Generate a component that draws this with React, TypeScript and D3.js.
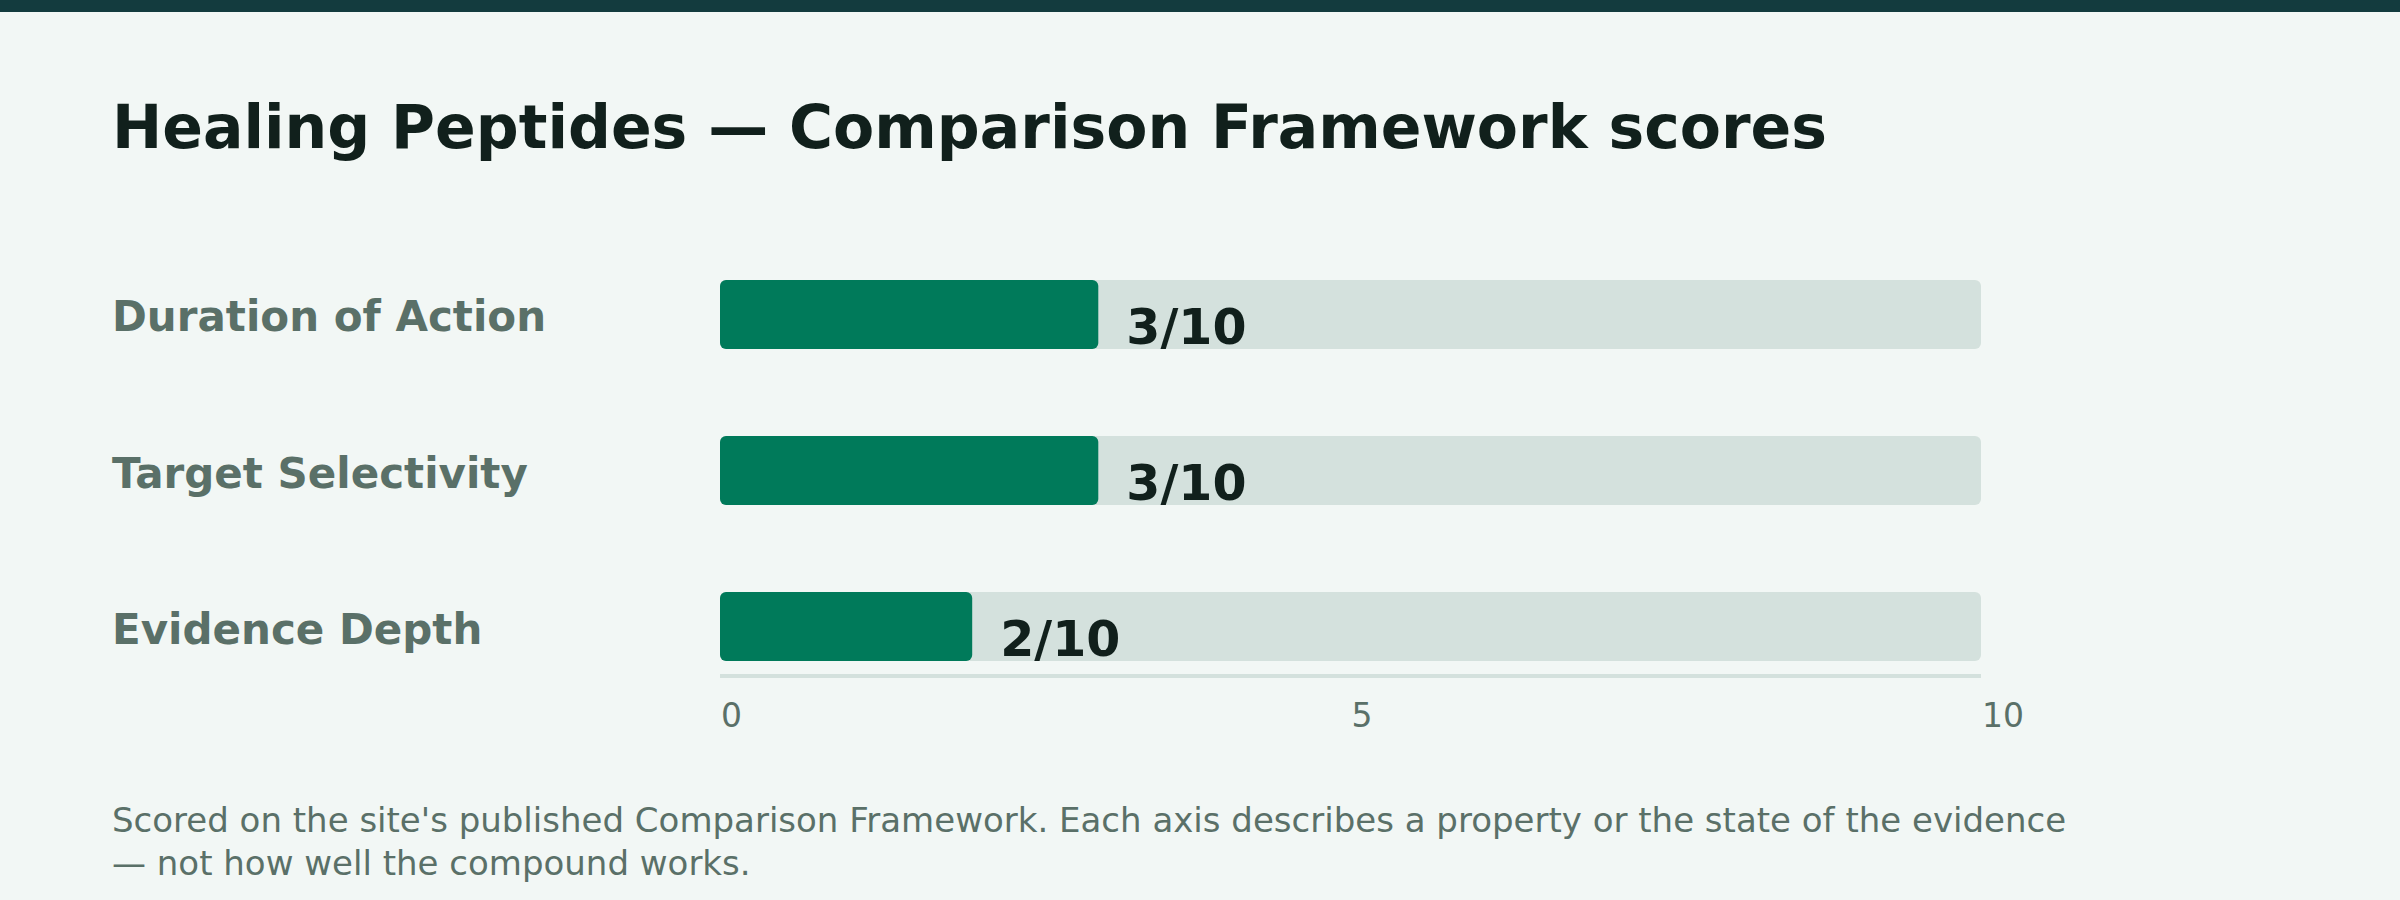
import React from "react";
import * as d3 from "d3";

const categories = ["Duration of Action", "Target Selectivity", "Evidence Depth"];
const scores = [3, 3, 2];
const maxScore = 10;
const tickValues = [0, 5, 10];
const title = "Healing Peptides — Comparison Framework scores";
const footnoteLines = [
  "Scored on the site's published Comparison Framework. Each axis describes a property or the state of the evidence",
  "— not how well the compound works.",
];

const W = 2400;
const H = 900;
const FONT = "'DejaVu Sans', sans-serif";

export default function App() {
  const x = d3.scaleLinear().domain([0, maxScore]).range([720, 1981]);
  const y = d3
    .scaleBand<string>()
    .domain(categories)
    .range([280, 661])
    .paddingInner(0.5577)
    .paddingOuter(0);
  const bw = y.bandwidth();
  const axisY = 676;

  return (
    <svg
      width={W}
      height={H}
      style={{ position: "absolute", left: 0, top: 0, display: "block" }}
      fontFamily={FONT}
    >
      <rect x={0} y={0} width={W} height={H} fill="#f2f7f5" />
      <rect x={0} y={0} width={W} height={12} fill="#133b3e" />
      <text x={112} y={148} fontSize={60} fontWeight="bold" fill="#11201c">
        {title}
      </text>
      {categories.map((c, i) => {
        const y0 = y(c) as number;
        return (
          <g key={c}>
            <text
              x={112}
              y={y0 + bw / 2 + 17}
              fontSize={42}
              fontWeight="bold"
              fill="#5a7068"
            >
              {c}
            </text>
            <rect
              x={x(0)}
              y={y0}
              width={x(maxScore) - x(0)}
              height={bw}
              rx={6}
              fill="#d4e1dd"
            />
            <rect
              x={x(0)}
              y={y0}
              width={x(scores[i]) - x(0)}
              height={bw}
              rx={6}
              fill="#007a5a"
            />
            <text
              x={x(scores[i]) + 28}
              y={y0 + 64}
              fontSize={49}
              fontWeight="bold"
              fill="#11201c"
            >
              {`${scores[i]}/${maxScore}`}
            </text>
          </g>
        );
      })}
      <rect
        x={x(0)}
        y={axisY - 2}
        width={x(maxScore) - x(0)}
        height={4}
        fill="#d4e1dd"
      />
      {tickValues.map((t) => (
        <text key={t} x={x(t) + 1} y={727} fontSize={33} fill="#5a7068">
          {t}
        </text>
      ))}
      <text fontSize={34} fill="#5a7068">
        {footnoteLines.map((l, i) => (
          <tspan key={i} x={112} y={832 + i * 43}>
            {l}
          </tspan>
        ))}
      </text>
    </svg>
  );
}
